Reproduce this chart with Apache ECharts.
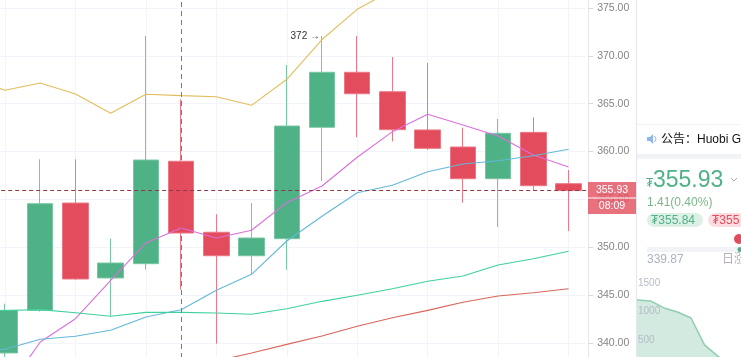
<!DOCTYPE html>
<html><head><meta charset="utf-8">
<style>html,body{margin:0;padding:0;background:#fff;overflow:hidden}#c{width:741px;height:357px}</style>
<script src="https://cdn.jsdelivr.net/npm/echarts@6/dist/echarts.min.js"></script>
</head><body><div id="c"></div>
<script>
const categories = ['c-1','c0','c1','c2','c3','c4','c5','c6','c7','c8','c9','c10','c11','c12','c13','c14','c15','c16'];
const opens  = [null,338.98,343.43,354.63,346.81,348.30,358.99,351.58,349.13,350.91,362.54,368.28,366.25,362.26,360.48,357.17,362.01,356.65];
const closes = [null,343.43,354.56,346.70,348.37,359.12,351.50,349.13,350.98,362.67,368.28,366.04,362.29,360.34,357.17,361.91,356.44,355.93];
const lows   = [null,337.50,343.30,346.60,342.84,347.67,345.59,339.95,347.15,347.67,356.93,361.49,361.07,360.17,354.66,352.13,355.96,351.71];
const highs  = [null,344.12,359.20,359.20,350.91,372.07,365.46,353.46,354.63,369.04,372.07,372.07,369.87,369.25,362.49,363.40,363.58,358.08];
const maYellow = [367.58,366.40,367.16,366.01,364.00,365.98,365.84,365.73,364.83,367.55,371.70,374.85,376.87,null,null,null,null,null];
const maPink   = [null,334.91,340.13,342.56,346.57,350.46,352.03,350.98,351.79,354.67,356.41,359.41,362.08,363.89,362.78,361.63,359.65,358.39];
const maBlue   = [339.29,339.36,340.41,340.72,341.35,342.74,343.50,345.52,347.19,350.67,353.25,355.71,356.48,357.90,358.71,359.05,359.57,360.24];
const maGreen  = [343.46,343.41,343.50,343.18,342.81,343.22,343.22,343.15,343.02,343.60,344.37,345.00,345.69,346.46,347.01,348.16,348.82,349.59];
const maRed    = [null,null,null,null,null,null,null,338.14,338.98,339.88,340.75,341.76,342.66,343.43,344.27,344.93,345.27,345.69];
const lastPrice = 355.93;
const crosshairCategory = 'c5';
const depthCategories = ['d0','d1','d2','d3','d4','d5','d6','d7','d8'];
const depthValues = [1204,1187,1065,995,890,420,220,100,0];
const FONT = '"Liberation Sans","Noto Sans CJK SC",sans-serif';
const GREEN = '#4fb286', RED = '#e34c5c';
const candleData = categories.map((c,i)=> opens[i]===null ? ['-','-','-','-'] : [opens[i],closes[i],lows[i],highs[i]]);
const line = (data,color)=>({type:'line',data,symbol:'none',smooth:false,connectNulls:false,lineStyle:{color,width:1.1},itemStyle:{color},z:3,silent:true});
const guide = (item,color,type)=>({type:'line',data:[],z:4,silent:true,markLine:{silent:true,symbol:'none',label:{show:false},animation:false,lineStyle:{color,type,width:1},data:[item]}});
function txt(x,y,text,fill,size,extra){return {type:'text',x,y,z:100,silent:true,style:Object.assign({text,fill,font:size+'px '+FONT,textVerticalAlign:'middle',textBaseline:'middle'},extra||{})};}
function rect(x,y,w,h,fill,r,op){return {type:'rect',z:99,silent:true,shape:{x,y,width:w,height:h,r:r||0},style:{fill,opacity:op==null?1:op}};}
const chart = echarts.init(document.getElementById('c'),null,{renderer:'canvas'});
chart.setOption({
  animation:false,backgroundColor:'#fff',
  grid:[{left:-47.83,top:-40,width:634,height:479,containLabel:false,outerBoundsMode:'none'},
        {left:637,top:283,width:108,height:86,containLabel:false,outerBoundsMode:'none'}],
  xAxis:[{type:'category',data:categories,boundaryGap:true,gridIndex:0,
      axisLine:{show:false},axisTick:{show:false},axisLabel:{show:false},
      splitLine:{show:true,alignWithLabel:true,interval:(i)=>i%2===1,lineStyle:{color:'#f1f4f8',width:1}}},
    {type:'category',data:depthCategories,boundaryGap:false,gridIndex:1,show:false}],
  yAxis:[{type:'value',gridIndex:0,min:330,max:380,interval:5,position:'right',offset:2,
      axisLine:{show:true,lineStyle:{color:'#e3e6ec'}},axisTick:{show:true,length:5,lineStyle:{color:'#d5d8de'}},
      axisLabel:{color:'#858585',fontSize:10.5,fontFamily:FONT,margin:9,formatter:v=>v.toFixed(2)},
      splitLine:{show:true,lineStyle:{color:'#f1f4f8',width:1}}},
    {type:'value',gridIndex:1,min:0,max:1500,interval:500,z:5,
      axisLine:{show:false},axisTick:{show:false},splitLine:{show:false},
      axisLabel:{inside:true,margin:1,color:'#b4bcc8',fontSize:10,fontFamily:FONT,formatter:v=>v===0?'':String(v)}}],
  series:[
    {type:'candlestick',data:candleData,barWidth:26,z:2,silent:true,
      itemStyle:{color:GREEN,color0:RED,borderColor:'#79c6a3',borderColor0:'#ec7785',borderWidth:1},
      markPoint:{silent:true,symbol:'circle',symbolSize:0,
        data:[{coord:['c9',372.07],value:372}],
        label:{show:true,position:'left',distance:2,formatter:'372 →',color:'#333',fontSize:10,fontFamily:FONT}}},
    line(maYellow,'#e3bd5a'),line(maPink,'#dc6fdc'),line(maBlue,'#63b8d8'),line(maGreen,'#3fd29b'),line(maRed,'#d9655a'),
    guide({xAxis:crosshairCategory},'#6b7d93',[5,4]),
    guide({yAxis:lastPrice},'#8f3b46',[4,3]),
    {type:'line',xAxisIndex:1,yAxisIndex:1,data:depthValues,symbol:'none',z:2,silent:true,
      lineStyle:{color:'#8fcfae',width:1.5},areaStyle:{color:'#d2eadf',opacity:1}}
  ],
  graphic:[
    rect(588,182,48,32,RED,0,0.8),
    {type:'line',z:100,silent:true,shape:{x1:588,y1:198,x2:636,y2:198},style:{stroke:'#fff',lineWidth:1}},
    txt(612,190.5,'355.93','#fff',10.5,{textAlign:'center'}),
    txt(612,206.5,'08:09','#fff',10.5,{textAlign:'center'}),
    {type:'line',z:100,silent:true,shape:{x1:636.5,y1:0,x2:636.5,y2:357},style:{stroke:'#e3e6ec',lineWidth:1}},
    {type:'line',z:100,silent:true,shape:{x1:637,y1:124.5,x2:741,y2:124.5},style:{stroke:'#eff1f5',lineWidth:1}},
    rect(637,154,104,5,'#f1f3f7'),
    {type:'polygon',z:100,silent:true,shape:{points:[[647,137],[650,137],[653,134],[653,144],[650,141],[647,141]]},style:{fill:'#8fb6ea'}},
    {type:'arc',z:100,silent:true,shape:{cx:653,cy:139,r:3,startAngle:-1.2,endAngle:1.2},style:{stroke:'#8fb6ea',fill:'none',lineWidth:1}},
    txt(661,139.5,'公告：','#111',12),
    txt(697,139.5,'Huobi G','#111',12),
    txt(646,184,'₮',GREEN,12),
    txt(653,180.5,'355.93',GREEN,23),
    {type:'polyline',z:100,silent:true,shape:{points:[[731,178],[734,181],[737,178]]},style:{stroke:'#aaa',fill:'none',lineWidth:1}},
    txt(647,203,'1.41(0.40%)','#7fb58a',12),
    rect(647,213,56,14,'#dcf0e6',7),
    txt(651,220.5,'₮355.84',GREEN,12),
    rect(708,213,40,14,'#fbdde1',7),
    txt(712,220.5,'₮355',RED,12),
    rect(647,247,94,5,'#f1f3f7'),
    {type:'circle',z:100,silent:true,shape:{cx:739,cy:239,r:5},style:{fill:RED}},
    {type:'circle',z:100,silent:true,shape:{cx:740,cy:249.5,r:2.5},style:{fill:GREEN}},
    txt(647,260,'339.87','#aab2c0',12),
    txt(722,260,'日涨','#b5aeb8',12)
  ]
});
</script></body></html>
